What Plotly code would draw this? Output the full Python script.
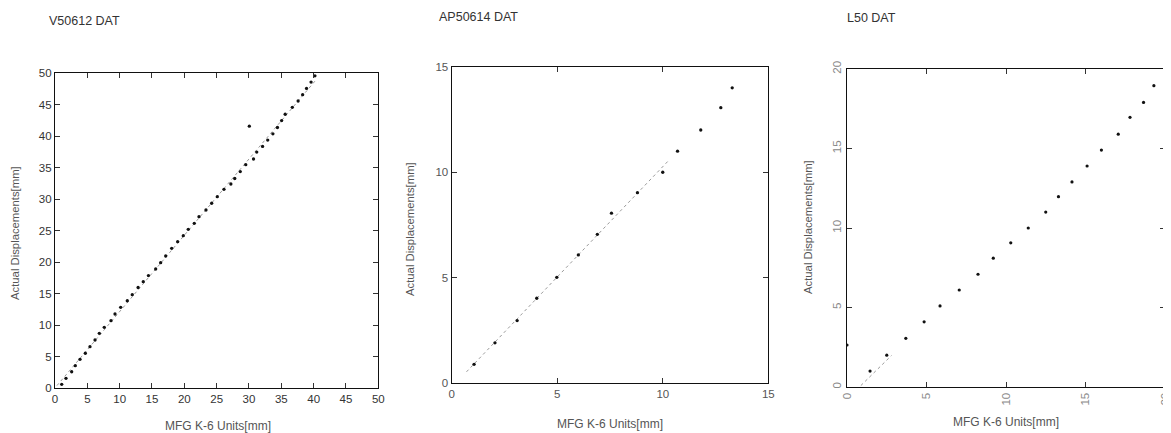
import numpy as np
import plotly.graph_objects as go

# ---------------- data ----------------
titles = ["V50612 DAT", "AP50614 DAT", "L50 DAT"]
x_title = "MFG K-6 Units[mm]"
y_title = "Actual Displacements[mm]"

v_mfg = [1.04, 1.70, 2.58, 3.14, 3.87, 4.69, 5.41, 6.19, 6.85, 7.62, 8.66, 9.28,
         10.16, 11.18, 11.95, 12.85, 13.65, 14.45, 15.57, 16.34, 17.12, 18.05,
         18.97, 19.84, 20.61, 21.54, 22.27, 23.35, 24.23, 25.10, 26.13, 27.20,
         27.80, 28.65, 29.50, 30.70, 31.20, 32.10, 32.90, 33.70, 34.40, 35.05,
         35.60, 36.70, 37.60, 38.30, 38.90, 39.60, 40.20]
v_act = [0.63, 1.59, 2.63, 3.59, 4.60, 5.56, 6.60, 7.67, 8.73, 9.68, 10.73, 11.79,
         12.86, 13.90, 14.86, 16.00, 16.92, 17.90, 18.94, 19.94, 21.00, 22.22,
         23.27, 24.22, 25.24, 26.19, 27.24, 28.30, 29.37, 30.41, 31.59, 32.43,
         33.30, 34.40, 35.50, 36.40, 37.50, 38.40, 39.40, 40.40, 41.40, 42.50,
         43.50, 44.60, 45.60, 46.60, 47.60, 48.60, 49.60]
v_out_mfg = [30.05]
v_out_act = [41.6]

ap_mfg = [1.06, 2.05, 3.10, 4.03, 4.98, 6.00, 6.90, 7.57, 8.80, 10.00, 10.70,
          11.80, 12.75, 13.29]
ap_act = [0.90, 1.92, 2.97, 4.03, 5.02, 6.08, 7.06, 8.06, 9.03, 10.00, 11.00,
          12.00, 13.06, 14.00]

l_mfg = [0.0, 1.45, 2.50, 3.70, 4.85, 5.85, 7.06, 8.24, 9.20, 10.30, 11.40, 12.50,
         13.30, 14.15, 15.10, 16.00, 17.06, 17.80, 18.65, 19.30]
l_act = [2.64, 1.00, 2.00, 3.06, 4.10, 5.10, 6.10, 7.09, 8.10, 9.07, 10.00, 11.00,
         11.97, 12.90, 13.90, 14.90, 15.90, 16.96, 17.90, 18.95]

v_ticks = [0, 5, 10, 15, 20, 25, 30, 35, 40, 45, 50]
ap_ticks = [0, 5, 10, 15]
l_ticks = [0, 5, 10, 15, 20]

# ---------------- figure ----------------
# page body has an 8px margin: size the figure so it fills the window exactly
OFF = 8
W, H = 1171 - OFF, 433 - OFF
fig = go.Figure()

def fit_line(xs, ys, lo, hi, n_use=None):
    xs = np.array(xs[:n_use] if n_use else xs)
    ys = np.array(ys[:n_use] if n_use else ys)
    k, b = np.polyfit(xs, ys, 1)
    xx = np.array([lo, hi])
    return xx, k * xx + b

line_style = dict(color="#9a9a9a", width=1, dash="dot")
mk = dict(color="#111", size=3.3, symbol="circle")

# panel 1
fx, fy = fit_line(v_mfg, v_act, 0.3, 40.5)
fig.add_trace(go.Scatter(x=fx, y=fy, mode="lines", line=line_style, xaxis="x", yaxis="y"))
fig.add_trace(go.Scatter(x=v_mfg, y=v_act, mode="markers", marker=mk, xaxis="x", yaxis="y"))
fig.add_trace(go.Scatter(x=v_out_mfg, y=v_out_act, mode="markers", marker=mk, xaxis="x", yaxis="y"))

# panel 2
fx, fy = fit_line(ap_mfg, ap_act, 0.7, 10.3, n_use=10)
fig.add_trace(go.Scatter(x=fx, y=fy, mode="lines", line=line_style, xaxis="x2", yaxis="y2"))
fig.add_trace(go.Scatter(x=ap_mfg, y=ap_act, mode="markers", marker=mk, xaxis="x2", yaxis="y2"))

# panel 3
fx, fy = fit_line(l_mfg[1:], l_act[1:], 0.6, 2.8)
fig.add_trace(go.Scatter(x=fx, y=fy, mode="lines", line=line_style, xaxis="x3", yaxis="y3"))
fig.add_trace(go.Scatter(x=l_mfg, y=l_act, mode="markers",
                         marker=dict(color="#111", size=3.2), xaxis="x3", yaxis="y3"))

def px_x(a, b):
    return [(a - OFF) / W, (b - OFF) / W]

def px_y(top, bottom):
    return [1 - (bottom - OFF) / H, 1 - (top - OFF) / H]

def sx(v):
    return (v - OFF) / W

def sy(v):
    return 1 - (v - OFF) / H

FONT = "Liberation Sans, Arial, sans-serif"

def axis(domain, rng, ticks, anchor, angle=0, color="#333"):
    return dict(domain=domain, range=rng, tickvals=ticks, anchor=anchor,
                automargin=False,
                showgrid=False, zeroline=False, showline=True, mirror="ticks",
                linecolor="#111", linewidth=1.3, ticks="inside", ticklen=5,
                tickcolor="#333", tickwidth=1, tickangle=angle,
                tickfont=dict(family=FONT, size=11.5, color=color))

fig.update_layout(
    width=W, height=H,
    margin=dict(l=0, r=0, t=0, b=0, autoexpand=False),
    paper_bgcolor="white", plot_bgcolor="white",
    showlegend=False,
    xaxis=axis(px_x(55, 378.3), [0, 50], v_ticks, "y"),
    yaxis=axis(px_y(73.3, 388.3), [0, 50], v_ticks, "x"),
    xaxis2=axis(px_x(451.7, 768.3), [0, 15], ap_ticks, "y2", color="#555"),
    yaxis2=axis(px_y(66.7, 383.3), [0, 15], ap_ticks, "x2", color="#555"),
    xaxis3=axis(px_x(847, 1165), [0, 20], l_ticks, "y3", angle=-90, color="#888"),
    yaxis3=axis(px_y(69, 387), [0, 20], l_ticks, "x3", angle=-90, color="#888"),
)

ann = []
# panel titles
for t, xc, yc in [(titles[0], 47, 21), (titles[1], 437, 17), (titles[2], 845, 18)]:
    ann.append(dict(text=t, x=sx(xc), y=sy(yc), xref="paper", yref="paper",
                    xanchor="left", yanchor="middle", showarrow=False,
                    font=dict(family=FONT, size=12.5, color="#333")))
# x axis titles
for xc, yc in [(218, 426), (610, 424), (1006, 422)]:
    ann.append(dict(text=x_title, x=sx(xc), y=sy(yc), xref="paper", yref="paper",
                    xanchor="center", yanchor="middle", showarrow=False,
                    font=dict(family=FONT, size=12, color="#555")))
# y axis titles
for xc, yc in [(15, 233), (410, 229), (808, 227)]:
    ann.append(dict(text=y_title, x=sx(xc), y=sy(yc), xref="paper", yref="paper",
                    xanchor="center", yanchor="middle", showarrow=False, textangle=-90,
                    font=dict(family=FONT, size=11.3, color="#555")))
fig.update_layout(annotations=ann)

fig.write_html("out.html")
